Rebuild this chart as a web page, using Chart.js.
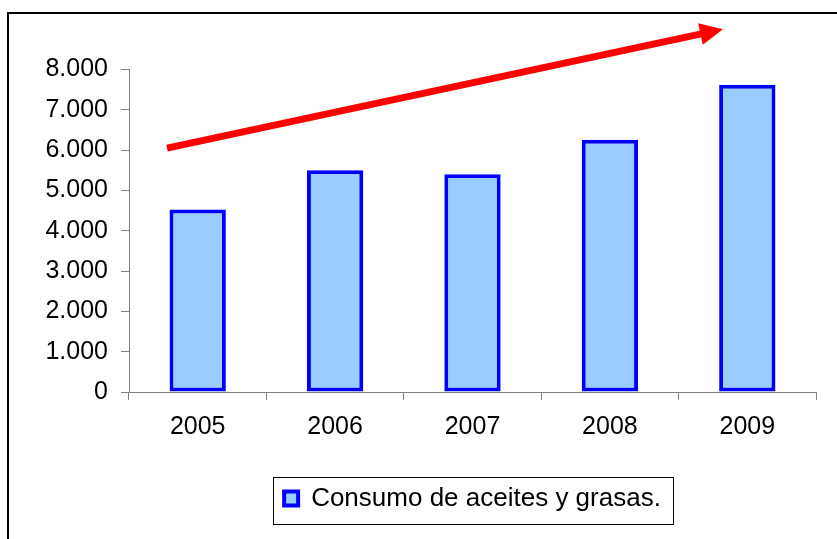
<!DOCTYPE html>
<html>
<head>
<meta charset="utf-8">
<script src="https://cdn.jsdelivr.net/npm/chart.js@4/dist/chart.umd.min.js"></script>
<style>
  html, body { margin: 0; padding: 0; background: #ffffff; overflow: hidden; }
  #frame { position: absolute; left: 7px; top: 12px; width: 900px; height: 700px; border: 2px solid #000; }
  #wrap { position: absolute; left: 0; top: 0; width: 837px; height: 539px; }
</style>
</head>
<body>
<div id="frame"></div>
<div id="wrap"><canvas id="c" width="837" height="539"></canvas></div>
<script>
// ---- data ----
const categories = ['2005', '2006', '2007', '2008', '2009'];
const consumo = [4530, 5500, 5400, 6260, 7620];
const seriesName = 'Consumo de aceites y grasas.';
const yTicks = [0, 1000, 2000, 3000, 4000, 5000, 6000, 7000, 8000];
// trend arrow, in data units: [category index, value]
const arrowFrom = [-0.223, 6050];
const arrowTo = [3.823, 9000];

const fmt = v => String(v).replace(/\B(?=(\d{3})+(?!\d))/g, '.');
const FONT = "'Liberation Sans', Arial, sans-serif";

const arrowPlugin = {
  id: 'trendArrow',
  afterDatasetsDraw(chart) {
    const {ctx, scales: {x, y}} = chart;
    const x0 = x.getPixelForValue(arrowFrom[0]), y0 = y.getPixelForValue(arrowFrom[1]);
    const x1 = x.getPixelForValue(arrowTo[0]), y1 = y.getPixelForValue(arrowTo[1]);
    const ang = Math.atan2(y1 - y0, x1 - x0);
    const headLen = 23, headHalf = 11;
    const bx = x1 - headLen * Math.cos(ang), by = y1 - headLen * Math.sin(ang);
    ctx.save();
    ctx.strokeStyle = '#FF0000';
    ctx.fillStyle = '#FF0000';
    ctx.lineWidth = 7;
    ctx.beginPath();
    ctx.moveTo(x0, y0);
    ctx.lineTo(bx + 2 * Math.cos(ang), by + 2 * Math.sin(ang));
    ctx.stroke();
    ctx.beginPath();
    ctx.moveTo(x1, y1);
    ctx.lineTo(bx + headHalf * Math.sin(ang), by - headHalf * Math.cos(ang));
    ctx.lineTo(bx - headHalf * Math.sin(ang), by + headHalf * Math.cos(ang));
    ctx.closePath();
    ctx.fill();
    ctx.restore();
  }
};

const legendBoxPlugin = {
  id: 'legendBox',
  afterDraw(chart) {
    const lg = chart.legend;
    if (!lg || !lg.legendHitBoxes || !lg.legendHitBoxes.length) return;
    const hb = lg.legendHitBoxes[0];
    const cy = hb.top + hb.height / 2;
    const {ctx} = chart;
    ctx.save();
    ctx.strokeStyle = '#000';
    ctx.lineWidth = 1;
    const l = Math.round(hb.left - 11) + 0.5;
    const r = Math.round(hb.left + hb.width + 12) + 0.5;
    const t = Math.round(cy - 22) + 0.5;
    const b = Math.round(cy + 25) + 0.5;
    ctx.strokeRect(l, t, r - l, b - t);
    ctx.restore();
  }
};

new Chart(document.getElementById('c'), {
  type: 'bar',
  data: {
    labels: categories,
    datasets: [{
      label: seriesName,
      data: consumo,
      backgroundColor: '#99CCFF',
      borderColor: '#0000FF',
      borderWidth: 4,
      borderSkipped: false,
      barPercentage: 0.41,
      categoryPercentage: 1.0
    }]
  },
  options: {
    responsive: false,
    animation: false,
    layout: { padding: { top: 69.5, left: 0, right: 21, bottom: 17.5 } },
    plugins: {
      tooltip: { enabled: false },
      legend: {
        position: 'bottom',
        fullSize: false,
        labels: {
          color: '#000',
          font: { family: FONT, size: 26 },
          boxWidth: 14,
          boxHeight: 14,
          padding: 10
        }
      }
    },
    scales: {
      x: {
        grid: { display: true, drawOnChartArea: false, offset: true, color: '#808080', tickLength: 8 },
        border: { display: true, color: '#808080', width: 1 },
        ticks: { color: '#000', font: { family: FONT, size: 25 }, padding: 12, maxRotation: 0 },
        afterFit(s) { s.height = 83.5; }
      },
      y: {
        min: 0,
        max: 8000,
        grid: { display: true, drawOnChartArea: false, color: '#808080', tickLength: 8 },
        border: { display: true, color: '#808080', width: 1 },
        afterBuildTicks(s) { s.ticks = yTicks.map(v => ({ value: v })); },
        ticks: {
          color: '#000',
          font: { family: FONT, size: 25 },
          padding: 13,
          callback: v => fmt(v)
        },
        afterFit(s) { s.width = 129; }
      }
    }
  },
  plugins: [arrowPlugin, legendBoxPlugin]
});
</script>
</body>
</html>
